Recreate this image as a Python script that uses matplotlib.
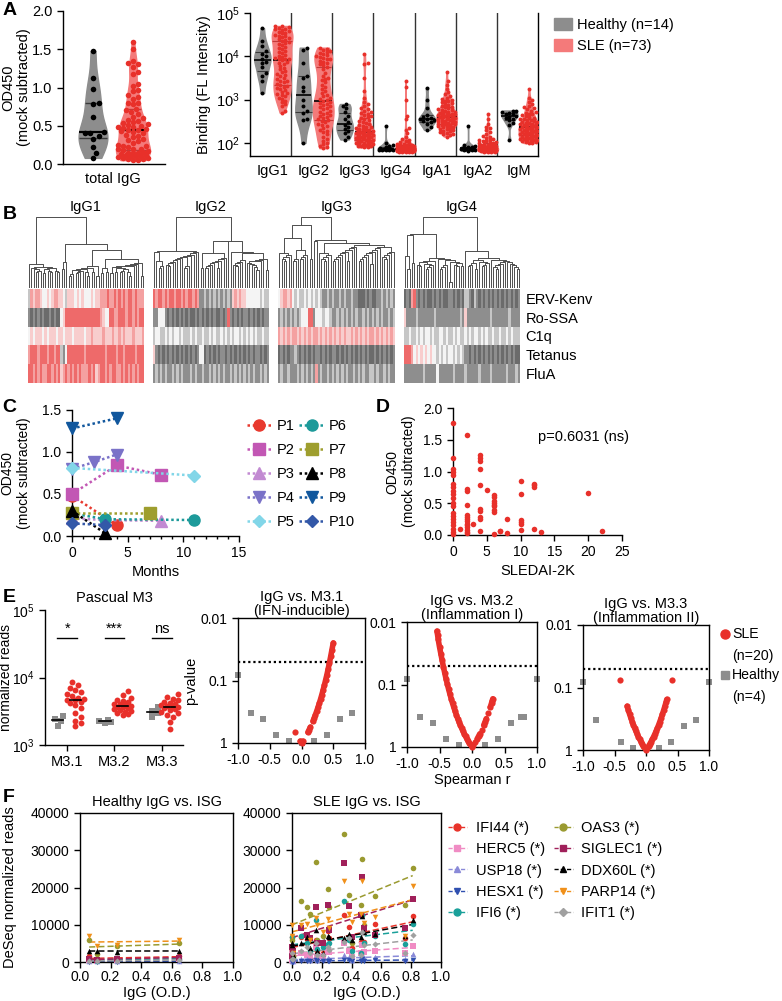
import numpy as np
import matplotlib
matplotlib.use("Agg")
import matplotlib.pyplot as plt
from matplotlib.colors import ListedColormap
from matplotlib.lines import Line2D
from matplotlib.patches import Patch
from matplotlib.ticker import NullLocator, MultipleLocator

plt.rcParams['font.family'] = ['Liberation Sans', 'DejaVu Sans']
plt.rcParams['font.size'] = 10
plt.rcParams['axes.linewidth'] = 1.0
plt.rcParams['axes.unicode_minus'] = False
plt.rcParams['xtick.major.size'] = 4
plt.rcParams['ytick.major.size'] = 4
plt.rcParams['xtick.major.width'] = 1.0
plt.rcParams['ytick.major.width'] = 1.0
plt.rcParams['xtick.labelsize'] = 10
plt.rcParams['ytick.labelsize'] = 10
plt.rcParams['mathtext.default'] = 'regular'

W, H = 782, 1001

# ---------------- data ----------------
# A: total IgG OD450
a_healthy = [1.48, 1.12, 0.98, 0.80, 0.78, 0.62, 0.42, 0.41, 0.40, 0.36, 0.33, 0.22, 0.15, 0.08]
a_sle = [1.60, 1.50, 1.35, 1.32, 1.31, 1.27, 1.20, 1.18, 1.05, 1.02, 0.97, 0.95, 0.90, 0.88,
         0.85, 0.80, 0.80, 0.78, 0.72, 0.70, 0.68, 0.65, 0.62, 0.60, 0.58, 0.56, 0.55, 0.53,
         0.52, 0.51, 0.50, 0.49, 0.48, 0.47, 0.46, 0.45, 0.44, 0.43, 0.42, 0.40, 0.38, 0.37,
         0.35, 0.33, 0.32, 0.30, 0.28, 0.25, 0.24, 0.23, 0.22, 0.20, 0.20, 0.19, 0.18, 0.17,
         0.16, 0.15, 0.15, 0.14, 0.13, 0.12, 0.12, 0.11, 0.10, 0.10, 0.09, 0.08, 0.08, 0.07,
         0.06, 0.05, 0.05]

# A: isotype binding, log10(FL intensity)
isotypes = ['IgG1', 'IgG2', 'IgG3', 'IgG4', 'IgA1', 'IgA2', 'IgM']
iso_healthy_log = [
    [4.65, 4.35, 4.25, 4.12, 4.05, 4.0, 3.95, 3.88, 3.85, 3.75, 3.62, 3.55, 3.42, 3.15],
    [4.2, 4.15, 3.85, 3.55, 3.5, 3.3, 3.2, 3.0, 2.85, 2.75, 2.7, 2.55, 2.52, 2.0],
    [2.9, 2.85, 2.8, 2.72, 2.62, 2.55, 2.48, 2.42, 2.38, 2.33, 2.28, 2.22, 2.15, 2.08],
    [2.4, 2.0, 1.95, 1.92, 1.9, 1.88, 1.87, 1.86, 1.86, 1.85, 1.85, 1.84, 1.84, 1.83],
    [3.28, 3.0, 2.8, 2.65, 2.6, 2.58, 2.56, 2.55, 2.53, 2.5, 2.48, 2.45, 2.36, 2.3],
    [2.4, 1.96, 1.93, 1.91, 1.9, 1.89, 1.88, 1.87, 1.86, 1.86, 1.85, 1.84, 1.83, 1.82],
    [2.75, 2.73, 2.71, 2.7, 2.68, 2.66, 2.63, 2.61, 2.58, 2.56, 2.52, 2.47, 2.42, 2.07],
]
iso_sle_log = [
    [4.70, 4.69, 4.67, 4.66, 4.64, 4.62, 4.61, 4.58, 4.56, 4.55, 4.53, 4.50, 4.48, 4.47, 4.45,
     4.43, 4.40, 4.38, 4.36, 4.33, 4.30, 4.28, 4.26, 4.22, 4.20, 4.17, 4.13, 4.10, 4.07, 4.04,
     4.01, 3.98, 3.96, 3.95, 3.95, 3.93, 3.91, 3.88, 3.85, 3.82, 3.78, 3.74, 3.70, 3.67, 3.63,
     3.60, 3.57, 3.54, 3.50, 3.47, 3.44, 3.42, 3.40, 3.37, 3.35, 3.32, 3.30, 3.28, 3.25, 3.22,
     3.18, 3.15, 3.12, 3.10, 3.08, 3.05, 3.02, 2.98, 2.94, 2.90, 2.85, 2.75, 2.70],
    [4.20, 4.18, 4.15, 4.12, 4.10, 4.08, 4.05, 4.02, 4.00, 3.98, 3.96, 3.95, 3.93, 3.90, 3.88,
     3.85, 3.82, 3.80, 3.75, 3.70, 3.62, 3.55, 3.50, 3.48, 3.45, 3.40, 3.35, 3.30, 3.25, 3.20,
     3.15, 3.10, 3.08, 3.05, 3.02, 3.00, 2.98, 2.95, 2.92, 2.90, 2.88, 2.85, 2.82, 2.80, 2.78,
     2.75, 2.72, 2.70, 2.68, 2.65, 2.62, 2.60, 2.58, 2.55, 2.52, 2.50, 2.48, 2.45, 2.42, 2.40,
     2.35, 2.30, 2.28, 2.25, 2.20, 2.15, 2.10, 2.05, 2.00, 1.97, 1.93, 1.90, 1.88],
    [4.05, 3.85, 3.82, 3.5, 3.2, 3.05, 2.95, 2.9, 2.85, 2.8, 2.78, 2.75, 2.72, 2.7, 2.68,
     2.65, 2.62, 2.6, 2.58, 2.55, 2.52, 2.5, 2.48, 2.46, 2.44, 2.42, 2.4, 2.38, 2.36, 2.34,
     2.33, 2.32, 2.3, 2.29, 2.28, 2.27, 2.26, 2.25, 2.24, 2.23, 2.22, 2.21, 2.2, 2.19, 2.18,
     2.17, 2.16, 2.15, 2.14, 2.13, 2.12, 2.11, 2.1, 2.09, 2.08, 2.07, 2.06, 2.05, 2.04, 2.03,
     2.02, 2.01, 2.0, 1.99, 1.98, 1.97, 1.96, 1.95, 1.94, 1.93, 1.92, 1.91, 1.9],
    [3.42, 3.3, 3.0, 2.62, 2.55, 2.35, 2.3, 2.22, 2.15, 2.1, 2.08, 2.05, 2.03, 2.0, 1.98,
     1.97, 1.96, 1.95, 1.95, 1.94, 1.93, 1.93, 1.92, 1.92, 1.91, 1.91, 1.9, 1.9, 1.9, 1.89,
     1.89, 1.89, 1.88, 1.88, 1.88, 1.88, 1.87, 1.87, 1.87, 1.87, 1.86, 1.86, 1.86, 1.86, 1.86,
     1.85, 1.85, 1.85, 1.85, 1.85, 1.85, 1.84, 1.84, 1.84, 1.84, 1.84, 1.83, 1.83, 1.83, 1.83,
     1.83, 1.82, 1.82, 1.82, 1.82, 1.81, 1.81, 1.81, 1.8, 1.8, 1.8, 1.79, 1.79],
    [3.65, 3.42, 3.35, 3.25, 3.18, 3.12, 3.08, 3.05, 3.02, 3.0, 2.98, 2.96, 2.94, 2.92, 2.9,
     2.88, 2.86, 2.84, 2.82, 2.8, 2.78, 2.77, 2.76, 2.74, 2.72, 2.71, 2.7, 2.69, 2.68, 2.67,
     2.66, 2.65, 2.65, 2.64, 2.63, 2.62, 2.61, 2.6, 2.59, 2.58, 2.57, 2.56, 2.55, 2.54, 2.53,
     2.52, 2.51, 2.5, 2.49, 2.48, 2.47, 2.46, 2.45, 2.44, 2.43, 2.42, 2.41, 2.4, 2.39, 2.38,
     2.36, 2.35, 2.33, 2.32, 2.3, 2.28, 2.27, 2.25, 2.23, 2.21, 2.2, 2.18, 2.15],
    [2.66, 2.55, 2.45, 2.38, 2.34, 2.3, 2.25, 2.2, 2.17, 2.14, 2.12, 2.1, 2.08, 2.06, 2.05,
     2.04, 2.02, 2.01, 2.0, 1.99, 1.98, 1.97, 1.96, 1.95, 1.95, 1.94, 1.93, 1.93, 1.92, 1.92,
     1.91, 1.91, 1.9, 1.9, 1.9, 1.89, 1.89, 1.89, 1.88, 1.88, 1.88, 1.88, 1.87, 1.87, 1.87,
     1.87, 1.86, 1.86, 1.86, 1.86, 1.85, 1.85, 1.85, 1.85, 1.85, 1.84, 1.84, 1.84, 1.84, 1.83,
     1.83, 1.83, 1.83, 1.82, 1.82, 1.82, 1.81, 1.81, 1.81, 1.8, 1.8, 1.79, 1.79],
    [3.25, 3.05, 3.0, 2.95, 2.9, 2.85, 2.82, 2.8, 2.78, 2.75, 2.72, 2.7, 2.68, 2.66, 2.64,
     2.62, 2.6, 2.58, 2.56, 2.55, 2.53, 2.52, 2.5, 2.49, 2.48, 2.47, 2.46, 2.45, 2.44, 2.43,
     2.42, 2.41, 2.4, 2.39, 2.38, 2.37, 2.36, 2.35, 2.34, 2.33, 2.32, 2.31, 2.3, 2.29, 2.28,
     2.27, 2.26, 2.25, 2.24, 2.23, 2.22, 2.21, 2.2, 2.19, 2.18, 2.17, 2.16, 2.15, 2.14, 2.13,
     2.12, 2.11, 2.1, 2.09, 2.08, 2.07, 2.06, 2.05, 2.04, 2.03, 2.02, 2.01, 2.0],
]

# B: heatmap levels (0 dark grey .. 3 white .. 6 red), columns in dendrogram order
antigens = ['ERV-Kenv', 'Ro-SSA', 'C1q', 'Tetanus', 'FluA']
hm_igg1 = [
    "2545543343" "4554432444" "3434333434" "4555655656" "5656656555",
    "1010101001" "0100346666" "6666666666" "6543366556" "6656656566",
    "3434443434" "4434434443" "4444344544" "4454445445" "4544454445",
    "5666566656" "6566213666" "6666566666" "6665666656" "6566665666",
    "6656565566" "5656456565" "6565556564" "5665656655" "6565656566",
]
hm_igg2 = [
    "6566565665" "6656566565" "1121212121" "2121454544" "3333332322",
    "1133310101" "0101010010" "1010101001" "0161010101" "1010101011",
    "2332232323" "3232223232" "2322323223" "2323233232" "3232322322",
    "4101010101" "0101010101" "3301010101" "1010101010" "1010110101",
    "1212121121" "2121112121" "1211212121" "2112121212" "1212112121",
]
hm_igg3 = [
    "3455453232" "2323232321" "1212112121" "1211000101" "0011212121",
    "1212121212" "3336613332" "3321121212" "1212112121" "2121211212",
    "5454545545" "4545455454" "5454545454" "4545454545" "5454545454",
    "0101011210" "1010101101" "0101101010" "1010101010" "0101010101",
    "1211211121" "2121215121" "1212121212" "1121212112" "2121121211",
]
hm_igg4 = [
    "0105610101" "0010101001" "1010102210" "2101010101" "0101010101",
    "4111121111" "1112111111" "1111214111" "1111111211" "1111121111",
    "2232232323" "3232233232" "2323223232" "3323232232" "2322323222",
    "6665343434" "3433232323" "3232321101" "0101010101" "0101010100",
    "1111111121" "1111311111" "1211112111" "1121111211" "1111211121",
]
hm_names = ['IgG1', 'IgG2', 'IgG3', 'IgG4']
hm_colors = ['#6b6b6b', '#8e8e8e', '#c6c6c6', '#f4f4f4', '#f8cdcd', '#f4a1a1', '#ee6a6a']

# C: longitudinal OD450
c_labels = ['P1', 'P2', 'P3', 'P4', 'P5', 'P6', 'P7', 'P8', 'P9', 'P10']
c_months = [[0, 4], [0, 4, 8], [0, 3, 8], [0, 2, 4], [0, 11],
            [0, 3, 11], [0, 7], [0, 3], [0, 4], [0, 3]]
c_od = [[0.48, 0.13], [0.50, 0.84, 0.73], [0.21, 0.19, 0.18], [0.80, 0.88, 0.97], [0.81, 0.72],
        [0.27, 0.20, 0.19], [0.27, 0.27], [0.30, 0.03], [1.28, 1.40], [0.15, 0.13]]
c_colors = ['#e8392e', '#c257b4', '#c28ad2', '#7a72c8', '#82d6e8',
            '#1d9a9a', '#9e9e2e', '#000000', '#11579d', '#3358a8']
c_markers = ['o', 's', '^', 'v', 'D', 'o', 's', '^', 'v', 'D']

# D: SLEDAI-2K vs OD450
d_sledai = [0] * 20 + [1] + [2] * 14 + [3] + [4] * 10 + [5] + [6] * 9 + [7] * 2 + [8] * 2 + \
           [10] * 6 + [12] * 4 + [13] + [20] + [22]
d_od = [1.77, 1.22, 1.04, 1.00, 0.95, 0.80, 0.75, 0.70, 0.65, 0.58, 0.50, 0.45, 0.35, 0.30,
        0.25, 0.20, 0.15, 0.10, 0.05, 0.02,
        0.10,
        1.58, 0.72, 0.70, 0.48, 0.32, 0.28, 0.25, 0.22, 0.18, 0.15, 0.12, 0.08, 0.05, 0.03,
        0.18,
        1.26, 1.22, 1.17, 1.04, 0.79, 0.41, 0.38, 0.29, 0.25, 0.07,
        0.71,
        0.63, 0.60, 0.54, 0.51, 0.48, 0.45, 0.40, 0.37, 0.01,
        0.07, 0.06,
        0.25, 0.03,
        0.85, 0.64, 0.24, 0.20, 0.17, 0.08,
        0.81, 0.78, 0.76, 0.10,
        0.05, 0.66, 0.07]

# E: Pascual M3 module reads
modules = ['M3.1', 'M3.2', 'M3.3']
m_healthy = [[2650, 2400, 2250, 1900], [2350, 2300, 2200, 2150], [3600, 3200, 2950, 2600]]
m_sle = [
    [8500, 7800, 7000, 6500, 6000, 5600, 5300, 5000, 4800, 4700, 4600, 4400, 4200, 3900,
     3500, 3000, 2600, 2300, 2100, 1900],
    [6400, 5500, 5000, 4700, 4500, 4300, 4100, 4000, 3900, 3800, 3700, 3600, 3500, 3400,
     3300, 3200, 3100, 3000, 2900, 2800],
    [5600, 5200, 4800, 4600, 4400, 4200, 4000, 3900, 3800, 3700, 3600, 3500, 3400, 3300,
     3100, 3000, 2800, 2600, 2200, 1700],
]
m_sig = ['*', '***', 'ns']

# E: volcano (Spearman r, p-value)
volc_titles = ['IgG vs. M3.1\n(IFN-inducible)', 'IgG vs. M3.2\n(Inflammation I)',
               'IgG vs. M3.3\n(Inflammation II)']
volc_sle_r = [
    [-0.10, -0.02, 0.00, 0.02, 0.10, 0.12, 0.14, 0.18, 0.20, 0.22, 0.24, 0.26, 0.28, 0.30,
     0.32, 0.34, 0.36, 0.38, 0.40, 0.42, 0.44, 0.46, 0.48, 0.50],
    [-0.54, -0.53, -0.52, -0.50, -0.48, -0.46, -0.44, -0.42, -0.40, -0.38, -0.36, -0.34,
     -0.32, -0.30, -0.28, -0.26, -0.24, -0.22, -0.20, -0.18, -0.16, -0.14, -0.12, -0.10,
     -0.08, -0.06, -0.04, -0.02, 0.00, 0.02, 0.05, 0.08, 0.10, 0.12, 0.15, 0.18, 0.20,
     0.22, 0.25, 0.28, 0.30, 0.31, 0.32],
    [-0.41, -0.30, -0.28, -0.26, -0.24, -0.22, -0.20, -0.18, -0.16, -0.14, -0.12, -0.10,
     -0.08, -0.06, -0.04, -0.02, 0.00, 0.02, 0.04, 0.06, 0.08, 0.10, 0.12, 0.14, 0.16,
     0.18, 0.20, 0.22, 0.24, 0.26, 0.28, 0.30, 0.32, 0.33, 0.42],
]
volc_sle_p = [
    [0.675, 0.933, 1.0, 0.933, 0.675, 0.614, 0.556, 0.448, 0.398, 0.351, 0.308, 0.268,
     0.232, 0.199, 0.169, 0.142, 0.119, 0.098, 0.081, 0.065, 0.052, 0.041, 0.032, 0.025],
    [0.014, 0.016, 0.019, 0.025, 0.032, 0.041, 0.052, 0.065, 0.081, 0.098, 0.119, 0.142,
     0.169, 0.199, 0.232, 0.268, 0.308, 0.351, 0.398, 0.448, 0.500, 0.556, 0.614, 0.675,
     0.738, 0.802, 0.867, 0.933, 1.0, 0.933, 0.834, 0.738, 0.675, 0.614, 0.528, 0.448,
     0.398, 0.351, 0.288, 0.232, 0.199, 0.183, 0.169],
    [0.075, 0.199, 0.232, 0.268, 0.308, 0.351, 0.398, 0.448, 0.500, 0.556, 0.614, 0.675,
     0.738, 0.802, 0.867, 0.933, 1.0, 0.933, 0.867, 0.802, 0.738, 0.675, 0.614, 0.556,
     0.500, 0.448, 0.398, 0.351, 0.308, 0.268, 0.232, 0.199, 0.169, 0.155, 0.075],
]
volc_h_r = [
    [-1.0, -0.8, -0.6, -0.4, -0.2, 0.0, 0.2, 0.4, 0.6, 0.8],
    [-1.0, -0.8, -0.6, -0.4, -0.2, 0.2, 0.4, 0.6, 0.75, 0.8, 1.0],
    [-1.0, -0.8, -0.4, -0.2, 0.2, 0.4, 0.6, 0.8, 1.0],
]
volc_h_p = [
    [0.083, 0.33, 0.42, 0.75, 0.92, 1.0, 0.92, 0.75, 0.42, 0.33],
    [0.083, 0.33, 0.42, 0.75, 0.92, 0.92, 0.75, 0.42, 0.33, 0.33, 0.083],
    [0.083, 0.33, 0.75, 0.92, 0.92, 0.75, 0.42, 0.33, 0.083],
]

# F: ISG reads vs IgG OD
genes = ['IFI44', 'HERC5', 'USP18', 'HESX1', 'IFI6', 'OAS3', 'SIGLEC1', 'DDX60L', 'PARP14', 'IFIT1']
gene_colors = ['#e8332a', '#f08cc4', '#8a8ad8', '#3050b0', '#1aa09a',
               '#9a9a30', '#a0205a', '#000000', '#f0901a', '#a0a0a0']
gene_markers = ['o', 's', '^', 'v', 'o', 'o', 's', '^', 'v', 'D']
f_healthy_igg = [0.06, 0.11, 0.24, 0.65]
f_healthy = [
    [1500, 500, 1000, 1500],
    [500, 300, 600, 800],
    [200, 150, 200, 300],
    [100, 80, 100, 150],
    [700, 400, 700, 900],
    [5800, 2200, 4200, 5000],
    [800, 500, 900, 1200],
    [3000, 3000, 2800, 3000],
    [7000, 4300, 4500, 6000],
    [300, 200, 400, 500],
]
f_sle_igg = [0.00, 0.00, 0.01, 0.06, 0.10, 0.12, 0.16, 0.17, 0.21, 0.24,
             0.25, 0.35, 0.38, 0.40, 0.46, 0.47, 0.48, 0.56, 0.76, 0.81]
f_sle = [
    [2200, 6800, 1500, 6700, 6100, 1000, 6000, 3000, 2500, 8400, 6400, 12600, 9500, 3800, 5300, 12600, 5500, 10100, 6400, 12400],
    [500, 2400, 400, 2500, 2000, 1000, 4000, 1200, 1500, 3000, 2600, 5200, 3000, 1300, 2300, 4500, 2800, 3000, 2300, 4300],
    [300, 800, 200, 900, 900, 500, 1200, 600, 700, 1000, 900, 1800, 1300, 500, 800, 2000, 1200, 1300, 900, 2100],
    [100, 300, 80, 400, 300, 200, 500, 300, 300, 400, 350, 600, 500, 250, 300, 700, 400, 500, 350, 500],
    [1800, 6700, 1200, 7000, 5200, 3000, 11400, 3500, 4000, 4800, 5200, 16400, 6000, 3000, 2500, 12700, 5000, 7100, 4700, 10200],
    [3200, 5800, 1500, 16500, 14800, 13000, 26800, 6000, 7000, 19500, 14800, 34300, 18000, 5000, 15300, 27600, 10000, 17600, 15400, 25200],
    [1500, 4000, 3000, 9200, 7200, 6500, 14700, 5000, 5000, 15400, 8500, 26500, 15000, 6800, 12500, 22700, 9000, 7300, 9000, 17000],
    [5000, 4600, 2000, 5200, 6800, 3800, 8600, 3000, 2500, 7100, 6600, 6500, 7600, 6000, 6800, 12300, 8000, 7500, 7000, 11300],
    [7000, 9800, 2500, 10000, 10200, 6000, 11800, 9800, 8000, 11600, 9000, 21800, 12800, 10800, 13000, 21700, 10500, 12000, 7000, 20500],
    [800, 2300, 700, 3000, 4000, 2300, 5000, 1800, 2000, 3900, 3300, 5500, 6500, 1700, 2000, 8000, 4500, 4800, 2500, 7200],
]

RED = '#e8302a'
GREY = '#8c8c8c'
FS = 10.5


def px_axes(fig, x0, y0, x1, y1):
    return fig.add_axes([x0 / W, 1 - y1 / H, (x1 - x0) / W, (y1 - y0) / H])


def ylabel_at(ax, text, x_px, x0, x1, size=FS):
    # place the right edge of the (rotated) y label at figure pixel x_px
    ax.set_ylabel(text, fontsize=size)
    ax.yaxis.set_label_coords((x_px - x0) / (x1 - x0), 0.5)


def swarm(vals, ppu_y, ppu_x, d, max_px):
    # simple beeswarm offsets (in x data units)
    ys = np.asarray(vals, float) * ppu_y
    order = np.argsort(ys)
    step = d * 0.5
    cands = [0.0]
    for k in range(1, int(max_px / step) + 1):
        cands += [k * step, -k * step]
    px, py = [], []
    offs = np.zeros(len(ys))
    for i in order:
        y = ys[i]
        best, bestd = 0.0, -1.0
        for c in cands:
            dd = np.min(np.hypot(np.array(px) - c, np.array(py) - y)) if px else np.inf
            if dd >= d:
                best = c
                break
            if dd > bestd:
                best, bestd = c, dd
        offs[i] = best / ppu_x
        px.append(best)
        py.append(y)
    return offs


def violin(ax, vals, pos, width, face, qcol, mcol, bw=0.35, lwq=1.0, lwm=2.0):
    vals = np.asarray(vals, float)
    parts = ax.violinplot([vals], positions=[pos], widths=width, showextrema=False, bw_method=bw)
    body = parts['bodies'][0]
    body.set_facecolor(face)
    body.set_edgecolor(face)
    body.set_alpha(1.0)
    body.set_zorder(1)
    verts = body.get_paths()[0].vertices
    right = verts[verts[:, 0] >= pos]
    o = np.argsort(right[:, 1])
    ry, rx = right[o, 1], right[o, 0] - pos
    for q, c, lw in [(25, qcol, lwq), (75, qcol, lwq), (50, mcol, lwm)]:
        y = np.percentile(vals, q)
        half = np.interp(y, ry, rx)
        ax.plot([pos - half, pos + half], [y, y], color=c, lw=lw, zorder=2,
                solid_capstyle='butt')


def dendrogram(ax, mat, color='#4d4d4d'):
    # order-preserving agglomerative clustering on heatmap columns (Ward-like)
    n = mat.shape[1]
    cl = [dict(n=1, x=float(i), h=0.0, v=mat[:, i].astype(float)) for i in range(n)]
    while len(cl) > 1:
        best = None
        for j in range(len(cl) - 1):
            a, b = cl[j], cl[j + 1]
            d = np.sqrt(2 * a['n'] * b['n'] / (a['n'] + b['n'])) * np.linalg.norm(a['v'] - b['v'])
            if best is None or d < best[0]:
                best = (d, j)
        d, j = best
        a, b = cl[j], cl[j + 1]
        h = max(d, a['h'], b['h']) + 0.25
        ax.plot([a['x'], a['x'], b['x'], b['x']],
                [a['h'] ** 0.6, h ** 0.6, h ** 0.6, b['h'] ** 0.6], color=color, lw=0.7)
        m = a['n'] + b['n']
        cl[j:j + 2] = [dict(n=m, x=(a['x'] + b['x']) / 2, h=h,
                            v=(a['v'] * a['n'] + b['v'] * b['n']) / m)]
    ax.set_xlim(-0.5, n - 0.5)
    ax.set_ylim(0, cl[0]['h'] ** 0.6)
    ax.axis('off')


def lb_spines(ax):
    ax.spines['top'].set_visible(False)
    ax.spines['right'].set_visible(False)


fig = plt.figure(figsize=(W / 100, H / 100), dpi=100)

for letter, x, y in [('A', 3, 2), ('B', 3, 206), ('C', 2, 399), ('D', 376, 399),
                     ('E', 3, 589), ('F', 3, 789)]:
    fig.text(x / W, 1 - y / H, letter, fontsize=14, fontweight='bold', va='top', ha='left')

# ---------------- A left ----------------
ax = px_axes(fig, 63, 11, 165, 164)
lb_spines(ax)
violin(ax, a_healthy, 0, 0.72, '#8d8d8d', '#3a3a3a', 'black', bw=0.45, lwq=1.0, lwm=1.6)
violin(ax, a_sle, 1, 0.85, '#f47a7a', '#c43a3a', 'black', bw=0.3, lwq=1.0, lwm=1.6)
ax.scatter(0 + swarm(a_healthy, 76.5, 40, 5.5, 14), a_healthy, s=16, color='black', zorder=3, lw=0)
ax.scatter(1 + swarm(a_sle, 76.5, 40, 5.0, 17), a_sle, s=16, color=RED, zorder=3, lw=0)
ax.set_xlim(-0.75, 1.8)
ax.set_ylim(0, 2.0)
ax.set_yticks([0, 0.5, 1.0, 1.5, 2.0])
ax.set_yticklabels(['0.0', '0.5', '1.0', '1.5', '2.0'], fontsize=FS)
ax.set_xticks([0.5])
ax.set_xticklabels(['total IgG'], fontsize=FS)
ax.tick_params(axis='x', length=0, pad=6)
ylabel_at(ax, 'OD450\n(mock subtracted)', 31, 63, 165)

# ---------------- A right ----------------
ax = px_axes(fig, 250, 13, 538, 156)
ax.spines['top'].set_visible(False)
for i in range(7):
    hv = iso_healthy_log[i]
    sv = iso_sle_log[i]
    violin(ax, hv, i + 0.3, 0.4, '#8d8d8d', '#3a3a3a', 'black', bw=0.4, lwq=0.8, lwm=1.2)
    violin(ax, sv, i + 0.78, 0.5, '#f47a7a', '#c43a3a', 'black', bw=0.3, lwq=0.8, lwm=1.2)
    ax.scatter(i + 0.3 + swarm(hv, 43.3, 41.1, 3.6, 8), hv, s=8, color='black', zorder=3, lw=0)
    ax.scatter(i + 0.78 + swarm(sv, 43.3, 41.1, 3.4, 10), sv, s=8, color=RED, zorder=3, lw=0)
    if i > 0:
        ax.axvline(i, color='#333333', lw=1.0, zorder=0)
ax.set_xlim(0, 7)
ax.set_ylim(1.7, 5.0)
ax.set_yticks([2, 3, 4, 5])
ax.set_yticklabels(['$10^2$', '$10^3$', '$10^4$', '$10^5$'], fontsize=FS)
ax.set_xticks([i + 0.54 for i in range(7)])
ax.set_xticklabels(isotypes, fontsize=FS)
ax.tick_params(axis='x', length=0, pad=6)
ylabel_at(ax, 'Binding (FL Intensity)', 211, 250, 538)

fig.legend(handles=[Patch(color='#8d8d8d'), Patch(color='#f47a7a')],
           labels=['Healthy (n=14)', 'SLE (n=73)'], loc='upper left',
           bbox_to_anchor=(554 / W, 1 - 18 / H), frameon=False, fontsize=FS,
           handlelength=1.2, handleheight=0.9, labelspacing=0.45, handletextpad=0.4,
           borderpad=0, borderaxespad=0)

# ---------------- B ----------------
cmap = ListedColormap(hm_colors)
hm_x = [(28, 144), (153, 269), (278, 395), (404, 520)]
for k, (rows, name) in enumerate(zip([hm_igg1, hm_igg2, hm_igg3, hm_igg4], hm_names)):
    mat = np.array([[int(c) for c in r] for r in rows])
    x0, x1 = hm_x[k]
    axd = px_axes(fig, x0, 217, x1, 288)
    dendrogram(axd, mat)
    axd.set_title(name, fontsize=FS, pad=4)
    axh = px_axes(fig, x0, 289, x1, 383)
    axh.imshow(mat, cmap=cmap, vmin=-0.5, vmax=6.5, aspect='auto', interpolation='nearest')
    axh.set_xticks([])
    axh.set_yticks([])
    for s in axh.spines.values():
        s.set_visible(False)
    if k == 3:
        axh.yaxis.tick_right()
        axh.set_yticks(range(5))
        axh.set_yticklabels(antigens, fontsize=FS)
        axh.tick_params(axis='y', length=0, pad=4)

# ---------------- C ----------------
ax = px_axes(fig, 72, 410, 239, 536)
lb_spines(ax)
handles = []
for lab, xs, ys, c, m in zip(c_labels, c_months, c_od, c_colors, c_markers):
    ms = 6.5 if m == 'D' else 8
    ax.plot(xs, ys, color=c, marker=m, ms=ms, ls=(0, (1, 1.1)), lw=1.8, clip_on=False, zorder=3)
    handles.append(Line2D([], [], color=c, marker=m, ms=ms, ls=(0, (1, 1.1)), lw=1.8))
ax.set_xlim(0, 15)
ax.set_ylim(0, 1.5)
ax.set_xticks([0, 5, 10, 15])
ax.xaxis.set_minor_locator(MultipleLocator(1))
ax.tick_params(axis='x', which='minor', length=2.5, width=1.0)
ax.set_yticks([0, 0.5, 1.0, 1.5])
ax.set_yticklabels(['0.0', '0.5', '1.0', '1.5'])
ax.set_xlabel('Months', fontsize=FS, labelpad=3)
ylabel_at(ax, 'OD450\n(mock subtracted)', 31, 72, 239, size=10)
fig.legend(handles=handles, labels=c_labels, ncol=2, loc='upper left',
           bbox_to_anchor=(247 / W, 1 - 419 / H), frameon=False, fontsize=FS,
           handlelength=1.7, labelspacing=0.68, handletextpad=0.35, columnspacing=0.3,
           borderpad=0, borderaxespad=0)

# ---------------- D ----------------
ax = px_axes(fig, 453, 408, 622, 535)
lb_spines(ax)
ax.scatter(d_sledai, d_od, s=16, color=RED, lw=0, clip_on=False, zorder=3)
ax.set_xlim(0, 25)
ax.set_ylim(0, 2.0)
ax.set_xticks([0, 5, 10, 15, 20, 25])
ax.set_yticks([0, 0.5, 1.0, 1.5, 2.0])
ax.set_yticklabels(['0.0', '0.5', '1.0', '1.5', '2.0'])
ax.set_xlabel('SLEDAI-2K', fontsize=FS, labelpad=3)
ylabel_at(ax, 'OD450\n(mock subtracted)', 416, 453, 622, size=10)
ax.text(0.77, 0.77, 'p=0.6031 (ns)', transform=ax.transAxes, ha='center', va='center',
        fontsize=FS)

# ---------------- E left ----------------
ax = px_axes(fig, 45, 610, 183, 745)
lb_spines(ax)
ax.set_yscale('log')
for i in range(3):
    hv = np.log10(m_healthy[i])
    sv = np.log10(m_sle[i])
    ax.scatter(i - 0.2 + swarm(hv, 67.5, 47, 5.5, 8), m_healthy[i], marker='s', s=18,
               color=GREY, lw=0, zorder=3)
    ax.scatter(i + 0.17 + swarm(sv, 67.5, 47, 5.5, 9), m_sle[i], s=18, color=RED, lw=0, zorder=3)
    for pos, v in [(i - 0.2, m_healthy[i]), (i + 0.17, m_sle[i])]:
        med = np.median(v)
        ax.plot([pos - 0.12, pos + 0.12], [med, med], color='black', lw=1.2, zorder=4)
    ax.plot([i - 0.21, i + 0.21], [39000, 39000], color='black', lw=1.0)
    ax.text(i, 41000, m_sig[i], ha='center', va='bottom', fontsize=FS)
ax.set_xlim(-0.47, 2.45)
ax.set_ylim(1e3, 1e5)
ax.yaxis.set_minor_locator(NullLocator())
ax.set_yticks([1e3, 1e4, 1e5])
ax.set_yticklabels(['$10^3$', '$10^4$', '$10^5$'])
ax.set_xticks([0, 1, 2])
ax.set_xticklabels(modules, fontsize=FS)
ylabel_at(ax, 'normalized reads', 13, 45, 183, size=10)
ax.set_title('Pascual M3', fontsize=FS, pad=6)

# ---------------- E volcano ----------------
volc_boxes = [(238, 618, 365, 743), (407, 622, 537, 747), (583, 625, 709, 750)]
for k in range(3):
    ax = px_axes(fig, *volc_boxes[k])
    ax.set_yscale('log')
    ax.axhline(0.05, color='black', ls=(0, (1, 1.3)), lw=1.6, zorder=1)
    ax.scatter(volc_h_r[k], volc_h_p[k], marker='s', s=18, color=GREY, lw=0, clip_on=False,
               zorder=2)
    r = np.asarray(volc_sle_r[k], float)
    p = np.asarray(volc_sle_p[k], float)
    # dense runs of genes overlap into a continuous band
    brk = np.r_[False, np.diff(r) > 0.025]
    rr, pp = [], []
    for ri, pi, b in zip(r, p, brk):
        if b:
            rr.append(np.nan)
            pp.append(np.nan)
        rr.append(ri)
        pp.append(pi)
    ax.plot(rr, pp, color=RED, lw=4, solid_capstyle='round', zorder=3)
    ax.scatter(r, p, s=20, color=RED, lw=0, clip_on=False, zorder=3)
    ax.set_xlim(-1, 1)
    ax.set_ylim(1, 0.01)
    ax.yaxis.set_minor_locator(NullLocator())
    ax.set_yticks([0.01, 0.1, 1])
    ax.set_yticklabels(['0.01', '0.1', '1'])
    ax.set_xticks([-1, -0.5, 0, 0.5, 1])
    ax.set_xticklabels(['-1.0', '-0.5', '0.0', '0.5', '1.0'])
    ax.set_title(volc_titles[k], fontsize=FS, pad=2, linespacing=1.0)
    if k == 0:
        ax.set_ylabel('p-value', fontsize=FS, labelpad=2)
    if k == 1:
        ax.set_xlabel('Spearman r', fontsize=FS, labelpad=1)

fig.add_artist(Line2D([725 / W], [1 - 634 / H], marker='o', ms=6.5, color=RED, ls='',
                      transform=fig.transFigure))
fig.add_artist(Line2D([725 / W], [1 - 675 / H], marker='s', ms=6, color=GREY, ls='',
                      transform=fig.transFigure))
for txt, y in [('SLE', 634), ('(n=20)', 656), ('Healthy', 675), ('(n=4)', 697)]:
    fig.text(732 / W, 1 - y / H, txt, fontsize=10.2, va='center', ha='left')

# ---------------- F ----------------
f_boxes = [(80, 813, 233, 962), (292, 813, 441, 962)]
f_titles = ['Healthy IgG vs. ISG', 'SLE IgG vs. ISG']
for k, (xs, data) in enumerate([(f_healthy_igg, f_healthy), (f_sle_igg, f_sle)]):
    ax = px_axes(fig, *f_boxes[k])
    xs = np.asarray(xs, float)
    for g in range(len(genes)):
        ys = np.asarray(data[g], float)
        ax.scatter(xs, ys, marker=gene_markers[g], s=16 if gene_markers[g] != 'D' else 10,
                   color=gene_colors[g], lw=0, zorder=3, clip_on=False)
        slope, icpt = np.polyfit(xs, ys, 1)
        lx = np.array([xs.min(), xs.max()])
        ax.plot(lx, icpt + slope * lx, color=gene_colors[g], ls=(0, (4, 2)), lw=1.1, zorder=2)
    ax.set_xlim(0, 1)
    ax.set_ylim(0, 40000)
    ax.set_xticks(np.arange(0, 1.01, 0.2))
    ax.set_xticklabels(['0.0', '0.2', '0.4', '0.6', '0.8', '1.0'])
    ax.set_yticks([0, 10000, 20000, 30000, 40000])
    ax.set_yticklabels(['0', '10000', '20000', '30000', '40000'])
    ax.tick_params(axis='x', pad=2)
    ax.set_xlabel('IgG (O.D.)', fontsize=FS, labelpad=1)
    ax.set_title(f_titles[k], fontsize=FS, pad=5)
    if k == 0:
        ylabel_at(ax, 'DeSeq normalized reads', 17, 80, 233)

f_handles = [Line2D([], [], color=c, marker=m, ms=5 if m != 'D' else 4, ls=(0, (3, 1.5)), lw=1.0)
             for c, m in zip(gene_colors, gene_markers)]
fig.legend(handles=f_handles, labels=[g + ' (*)' for g in genes], ncol=2, loc='upper left',
           bbox_to_anchor=(448 / W, 1 - 821 / H), frameon=False, fontsize=FS,
           handlelength=1.3, labelspacing=0.5, handletextpad=0.6, columnspacing=0.6,
           borderpad=0, borderaxespad=0)

fig.savefig('out.png', dpi=100)
